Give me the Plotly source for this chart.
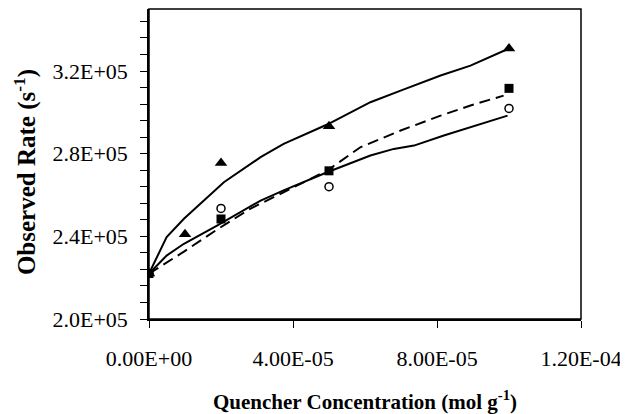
import plotly.graph_objects as go

# Data points
tri_x = [0, 1.0e-5, 2.0e-5, 5.0e-5, 1.0e-4]
tri_y = [2.22e5, 2.41e5, 2.755e5, 2.933e5, 3.309e5]
sq_x = [0, 2.0e-5, 5.0e-5, 1.0e-4]
sq_y = [2.22e5, 2.484e5, 2.717e5, 3.116e5]
circ_x = [0, 2.0e-5, 5.0e-5, 1.0e-4]
circ_y = [2.22e5, 2.535e5, 2.640e5, 3.019e5]

# Fitted curves
fit_tri_x = [0, 0.49e-5, 0.97e-5, 1.52e-5, 2.08e-5, 3.10e-5, 3.74e-5, 4.95e-5, 6.15e-5, 6.99e-5, 8.10e-5, 8.93e-5, 9.86e-5, 1.0e-4]
fit_tri_y = [2.22e5, 2.396e5, 2.485e5, 2.573e5, 2.662e5, 2.783e5, 2.847e5, 2.941e5, 3.049e5, 3.105e5, 3.178e5, 3.226e5, 3.299e5, 3.309e5]
fit_circ_x = [0, 0.49e-5, 0.97e-5, 1.89e-5, 3.10e-5, 3.74e-5, 4.95e-5, 6.15e-5, 6.80e-5, 7.36e-5, 8.19e-5, 9.49e-5, 9.96e-5]
fit_circ_y = [2.219e5, 2.307e5, 2.364e5, 2.452e5, 2.573e5, 2.622e5, 2.710e5, 2.791e5, 2.823e5, 2.839e5, 2.888e5, 2.960e5, 2.984e5]
fit_sq_x = [0, 0.5e-5, 0.97e-5, 1.89e-5, 2.82e-5, 4.95e-5, 5.87e-5, 6.99e-5, 8.10e-5, 8.93e-5, 9.85e-5]
fit_sq_y = [2.219e5, 2.273e5, 2.326e5, 2.433e5, 2.534e5, 2.718e5, 2.831e5, 2.912e5, 2.984e5, 3.033e5, 3.081e5]

x_ticks = [0, 4e-5, 8e-5, 1.2e-4]
x_labels = ["0.00E+00", "4.00E-05", "8.00E-05", "1.20E-04"]
y_ticks = [2.0e5, 2.4e5, 2.8e5, 3.2e5]
y_labels = ["2.0E+05", "2.4E+05", "2.8E+05", "3.2E+05"]
y_minor = [2.08e5, 2.16e5, 2.24e5, 2.32e5, 2.48e5, 2.56e5, 2.64e5, 2.72e5,
           2.88e5, 2.96e5, 3.04e5, 3.12e5, 3.28e5, 3.36e5, 3.44e5]

SERIF = "Liberation Serif, Times New Roman, serif"

fig = go.Figure()
fig.add_trace(go.Scatter(x=fit_tri_x, y=fit_tri_y, mode="lines", line=dict(color="black", width=2)))
fig.add_trace(go.Scatter(x=fit_circ_x, y=fit_circ_y, mode="lines", line=dict(color="black", width=2)))
fig.add_trace(go.Scatter(x=fit_sq_x, y=fit_sq_y, mode="lines", line=dict(color="black", width=2, dash="11px,6px")))
fig.add_trace(go.Scatter(x=circ_x, y=circ_y, mode="markers",
                         marker=dict(symbol="circle-open", size=8, color="black", line=dict(width=1.5))))
fig.add_trace(go.Scatter(x=sq_x, y=sq_y, mode="markers",
                         marker=dict(symbol="square", size=9, color="black")))
fig.add_trace(go.Scatter(x=tri_x, y=tri_y, mode="markers",
                         marker=dict(symbol="triangle-up", size=11, color="black")))

fig.update_layout(
    width=620, height=406,
    margin=dict(l=141, r=47, t=1, b=95),
    plot_bgcolor="white", paper_bgcolor="white",
    showlegend=False,
    font=dict(family=SERIF, size=22, color="black"),
    xaxis=dict(range=[0, 1.2e-4], tickvals=x_ticks, ticktext=x_labels,
               tickfont=dict(family=SERIF, size=22, color="black"),
               ticks="outside", ticklen=7, tickcolor="black", tickwidth=1,
               showline=True, linecolor="black", linewidth=1.5,
               showgrid=False, zeroline=False, ticklabelstandoff=12),
    yaxis=dict(range=[2.0e5, 3.5e5], tickvals=y_ticks, ticktext=y_labels,
               tickfont=dict(family=SERIF, size=22, color="black"),
               ticks="outside", ticklen=7, tickcolor="black", tickwidth=1,
               minor=dict(tickvals=y_minor, ticks="outside", ticklen=7,
                          tickcolor="black", tickwidth=1, showgrid=False),
               showline=True, linecolor="black", linewidth=1.5,
               showgrid=False, zeroline=False, ticklabelstandoff=8),
    shapes=[dict(type="rect", xref="paper", yref="paper", x0=0, y0=0, x1=1, y1=1,
                 line=dict(color="black", width=1.5), layer="above")],
    annotations=[
        dict(text="<b>Quencher Concentration (mol g<sup>-1</sup>)</b>", xref="paper", yref="paper",
             x=0.5, y=-0.262, xanchor="center", yanchor="middle", showarrow=False,
             font=dict(family=SERIF, size=21, color="black")),
        dict(text="<b>Observed Rate (s<sup>-1</sup>)</b>", xref="paper", yref="paper",
             x=-0.287, y=0.474, xanchor="center", yanchor="middle", showarrow=False, textangle=-90,
             font=dict(family=SERIF, size=25, color="black")),
    ],
)

fig.write_html("out.html")
